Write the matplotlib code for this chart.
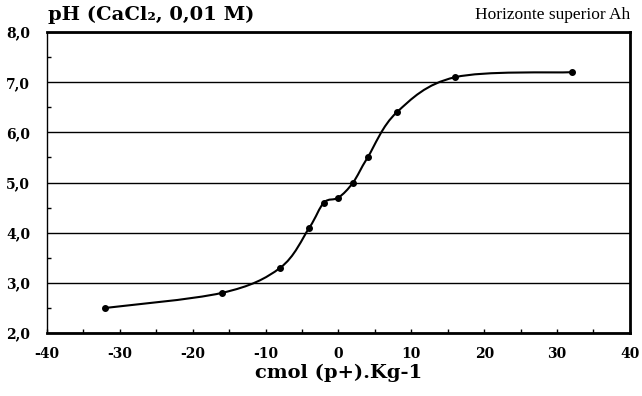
import numpy as np
import matplotlib
matplotlib.use("Agg")
import matplotlib.pyplot as plt
from matplotlib.path import Path
from matplotlib.patches import PathPatch
from matplotlib.ticker import FuncFormatter, MultipleLocator

# Titration data
dose = [-32, -16, -8, -4, -2, 0, 2, 4, 8, 16, 32]
ph = [2.5, 2.8, 3.3, 4.1, 4.6, 4.7, 5.0, 5.5, 6.4, 7.1, 7.2]

title = "pH (CaCl\u2082, 0,01 M)"
subtitle = "Horizonte superior Ah"
xlabel = "cmol (p+).Kg-1"

plt.rcParams["font.family"] = ["DejaVu Serif"]

fig = plt.figure(figsize=(6.42, 3.96), dpi=100)
ax = fig.add_axes([0.0732, 0.159, 0.908, 0.76])

# smoothed line (Excel style bezier through the points)
x = np.array(dose, float)
y = np.array(ph, float)
verts = [(x[0], y[0])]
codes = [Path.MOVETO]
for i in range(len(x) - 1):
    x0, y0 = (x[i - 1], y[i - 1]) if i > 0 else (x[i], y[i])
    x3, y3 = (x[i + 2], y[i + 2]) if i + 2 < len(x) else (x[i + 1], y[i + 1])
    c1 = (x[i] + (x[i + 1] - x0) / 6, y[i] + (y[i + 1] - y0) / 6)
    c2 = (x[i + 1] - (x3 - x[i]) / 6, y[i + 1] - (y3 - y[i]) / 6)
    verts += [c1, c2, (x[i + 1], y[i + 1])]
    codes += [Path.CURVE4] * 3
ax.add_patch(PathPatch(Path(verts, codes), fill=False, lw=1.5, color="black", zorder=3))
ax.plot(dose, ph, "o", color="black", ms=4, zorder=4)

ax.set_xlim(-40, 40)
ax.set_ylim(2, 8)
ax.xaxis.set_major_locator(MultipleLocator(10))
ax.xaxis.set_minor_locator(MultipleLocator(5))
ax.yaxis.set_major_locator(MultipleLocator(1))
ax.yaxis.set_minor_locator(MultipleLocator(0.5))
ax.yaxis.set_major_formatter(FuncFormatter(lambda v, p: f"{v:.1f}".replace(".", ",")))
ax.xaxis.set_major_formatter(FuncFormatter(lambda v, p: f"{v:.0f}"))
ax.tick_params(which="both", direction="in", length=3, width=1, labelsize=10)
ax.tick_params(axis="y", which="major", length=0, pad=12)
ax.tick_params(axis="x", which="major", pad=10)
for lab in ax.get_xticklabels() + ax.get_yticklabels():
    lab.set_fontweight("bold")

ax.grid(axis="y", color="black", lw=1)
ax.set_axisbelow(True)
ax.spines["left"].set_linewidth(1)
for s in ["top", "right", "bottom"]:
    ax.spines[s].set_linewidth(2)

ax.set_xlabel(xlabel, fontsize=14, fontweight="bold", labelpad=2)
fig.text(0.075, 0.962, title, fontsize=14, fontweight="bold", va="center", ha="left")
fig.text(0.982, 0.962, subtitle, fontsize=12.5, va="center", ha="right",
         family="Liberation Serif")

fig.savefig("out.png", dpi=100)
